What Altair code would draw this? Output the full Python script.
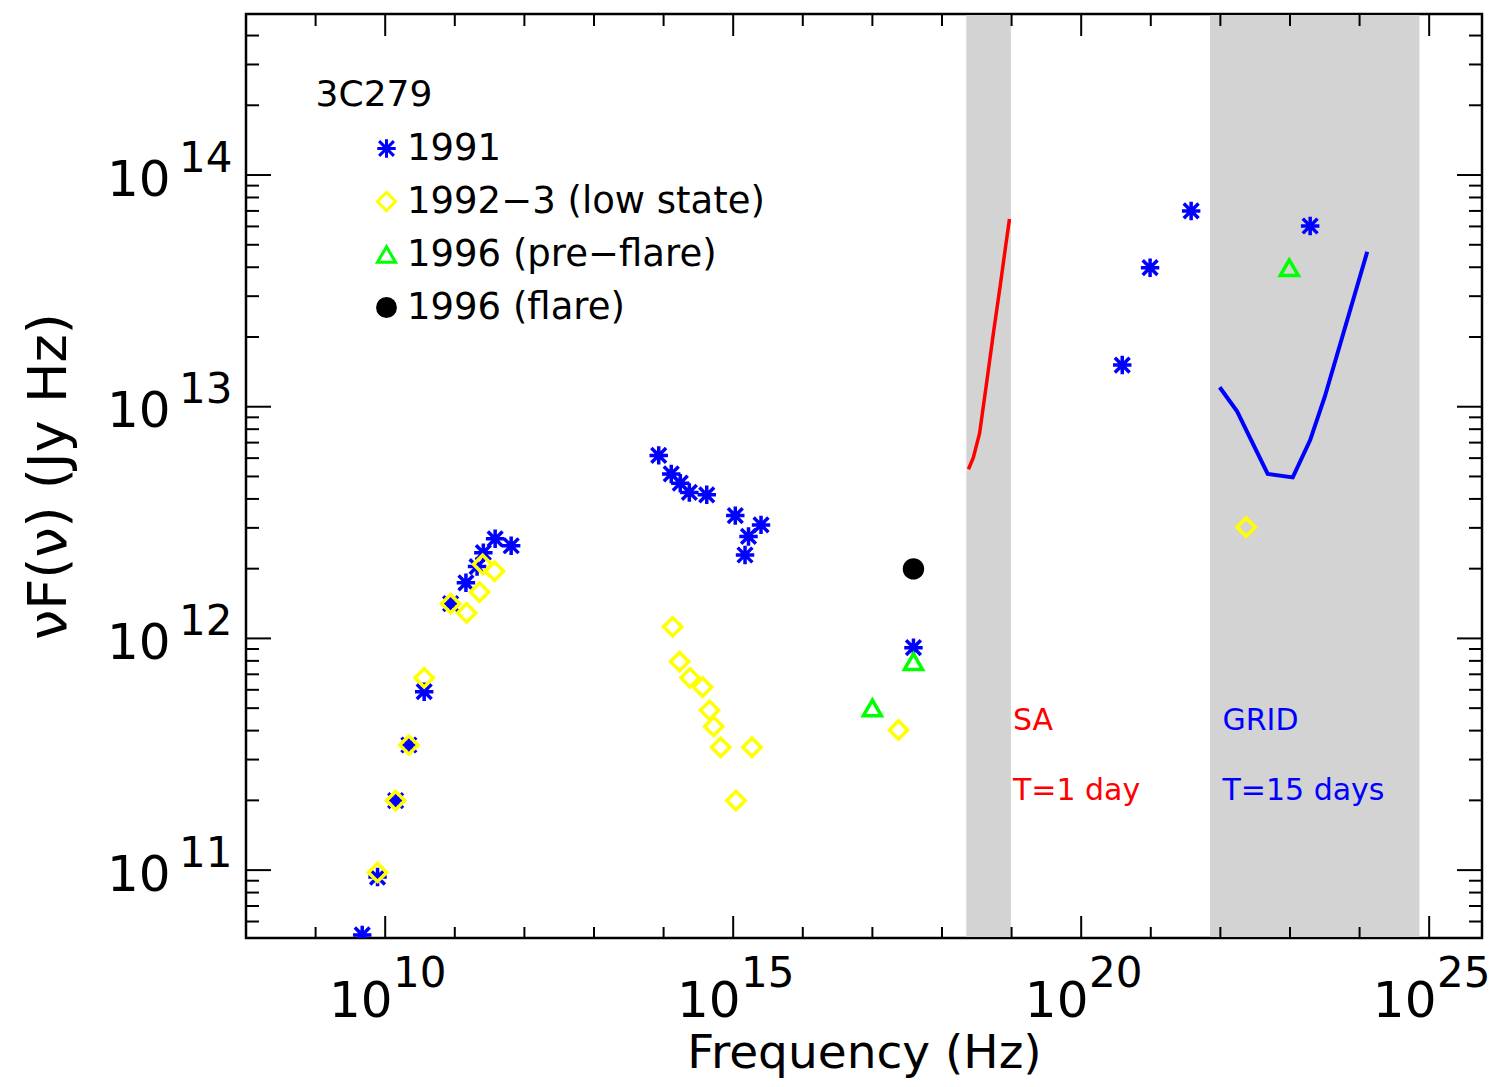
import altair as alt
import numpy as np
import pandas as pd

FONT = "DejaVu Sans"
W, H = 1236, 924

series_names = ["1991", "1992\u22123 (low state)", "1996 (pre\u2212flare)", "1996 (flare)"]

# log10(frequency), log10(nuF(nu))
lnu_1991 = [9.67, 9.89, 10.15, 10.34, 10.56, 10.94, 11.16, 11.32, 11.41, 11.58, 11.81,
            13.93, 14.11, 14.24, 14.37, 14.62, 15.03, 15.17, 15.22, 15.40,
            17.59, 20.59, 20.99, 21.58, 23.29]
lfl_1991 = [10.72, 10.97, 11.30, 11.54, 11.77, 12.15, 12.24, 12.31, 12.37, 12.43, 12.40,
            12.79, 12.71, 12.67, 12.63, 12.62, 12.53, 12.36, 12.44, 12.49,
            11.96, 13.18, 13.60, 13.845, 13.78]
lnu_1992 = [9.89, 10.15, 10.34, 10.56, 10.94, 11.17, 11.355, 11.40, 11.57,
            14.13, 14.23, 14.38, 14.56, 14.66, 14.72, 14.82, 15.04, 15.27,
            17.375, 22.37]
lfl_1992 = [10.99, 11.30, 11.54, 11.83, 12.15, 12.11, 12.20, 12.32, 12.29,
            12.05, 11.90, 11.83, 11.79, 11.69, 11.62, 11.53, 11.30, 11.53,
            11.605, 12.48]
lnu_pre = [17.00, 17.59, 22.99]
lfl_pre = [11.70, 11.90, 13.60]
lnu_flare = [17.59]
lfl_flare = [12.30]

# sensitivity curves
lnu_sa = [18.38, 18.45, 18.54, 18.64, 18.74, 18.84, 18.92, 18.97]
lfl_sa = [12.73, 12.78, 12.885, 13.10, 13.32, 13.53, 13.705, 13.81]
lnu_grid = [21.99, 22.24, 22.68, 23.04, 23.29, 23.50, 24.11]
lfl_grid = [13.084, 12.98, 12.71, 12.695, 12.856, 13.043, 13.669]

# shaded energy bands (log10 Hz)
band_lo = [18.35, 21.85]
band_hi = [18.99, 24.86]

# annotations
title_txt = ["3C279"]
title_lx = [9.0]
title_ly = [14.30]
sa_txt = ["SA", "T=1 day"]
sa_lx = [19.02, 19.02]
sa_ly = [11.605, 11.303]
grid_txt = ["GRID", "T=15 days"]
grid_lx = [22.03, 22.03]
grid_ly = [11.605, 11.303]

# ticks
x_major = [1e10, 1e15, 1e20, 1e25]
x_minor = [1e9, 1e11, 1e12, 1e13, 1e14, 1e16, 1e17, 1e18, 1e19, 1e21, 1e22, 1e23, 1e24]
y_major = [1e11, 1e12, 1e13, 1e14]
y_minor = [6e10, 7e10, 8e10, 9e10,
           2e11, 3e11, 4e11, 5e11, 6e11, 7e11, 8e11, 9e11,
           2e12, 3e12, 4e12, 5e12, 6e12, 7e12, 8e12, 9e12,
           2e13, 3e13, 4e13, 5e13, 6e13, 7e13, 8e13, 9e13,
           2e14, 3e14, 4e14]

xscale = alt.Scale(type="log", domain=[10 ** 8.0, 10 ** 25.759], nice=False)
yscale = alt.Scale(type="log", domain=[10 ** 10.707, 10 ** 14.695], nice=False)


def X(field, axis=None):
    return alt.X(field, type="quantitative", scale=xscale, axis=axis)


def Y(field, axis=None):
    return alt.Y(field, type="quantitative", scale=yscale, axis=axis)


# points table
rows = []
for name, lx, ly in [(series_names[0], lnu_1991, lfl_1991),
                     (series_names[1], lnu_1992, lfl_1992),
                     (series_names[2], lnu_pre, lfl_pre),
                     (series_names[3], lnu_flare, lfl_flare)]:
    for a, b in zip(lx, ly):
        rows.append({"nu": 10 ** a, "flux": 10 ** b, "series": name})
pts_df = pd.DataFrame(rows)
pts_df["k"] = np.arange(len(pts_df))

ASTERISK = "M-1,0L1,0M0,-1L0,1M-0.8,-0.8L0.8,0.8M-0.8,0.8L0.8,-0.8"

leg = alt.Legend(title=None, orient="none", legendX=122, legendY=116,
                 labelFontSize=37, labelFont=FONT, labelColor="black",
                 symbolStrokeWidth=3, rowPadding=15, labelOffset=2,
                 padding=0, labelLimit=800)

x_base_axis = alt.Axis(orient="bottom", values=x_major, labelExpr="'10'",
                       labelFontSize=50, labelPadding=78, labelBaseline="alphabetic",
                       labelAlign="center", labelOffset=-25, labelFlush=False, labelOverlap=False,
                       ticks=False, tickSize=0, domain=False, grid=False,
                       title="Frequency (Hz)", titleFontSize=47, titleY=129,
                       titleBaseline="alphabetic")
y_base_axis = alt.Axis(orient="left", values=y_major, labelExpr="'10'",
                       labelFontSize=50, labelPadding=76, labelBaseline="alphabetic",
                       labelAlign="right", labelOffset=20, labelFlush=False, labelOverlap=False,
                       ticks=False, tickSize=0, domain=False, grid=False,
                       title="\u03bdF(\u03bd) (Jy Hz)", titleFontSize=54, titleX=-181,
                       titleY=H / 2, titleBaseline="alphabetic", titleAlign="center")
x_exp_axis = alt.Axis(orient="bottom", values=x_major,
                      labelExpr="format(round(log(datum.value)/LN10), 'd')",
                      labelFontSize=42, labelPadding=48, labelBaseline="alphabetic",
                      labelAlign="center", labelOffset=34, labelFlush=False, labelOverlap=False,
                      ticks=False, tickSize=0, domain=False, grid=False, title=None)
y_exp_axis = alt.Axis(orient="left", values=y_major,
                      labelExpr="format(round(log(datum.value)/LN10), 'd')",
                      labelFontSize=42, labelPadding=14, labelBaseline="alphabetic",
                      labelAlign="right", labelOffset=-4, labelFlush=False, labelOverlap=False,
                      ticks=False, tickSize=0, domain=False, grid=False, title=None)

# bands
band_df = pd.DataFrame({"lo": [10 ** v for v in band_lo], "hi": [10 ** v for v in band_hi]})
bands = alt.Chart(band_df).mark_rect(color="#D3D3D3").encode(
    x=X("lo"), x2="hi", y=alt.value(1), y2=alt.value(H - 1))


def xticks(vals, length, top):
    df = pd.DataFrame({"v": vals})
    if top:
        yy, yy2 = alt.value(0), alt.value(length)
    else:
        yy, yy2 = alt.value(H), alt.value(H - length)
    return alt.Chart(df).mark_rule(color="black", strokeWidth=2).encode(x=X("v"), y=yy, y2=yy2)


def yticks(vals, length, right):
    df = pd.DataFrame({"v": vals})
    if right:
        xx, xx2 = alt.value(W), alt.value(W - length)
    else:
        xx, xx2 = alt.value(0), alt.value(length)
    return alt.Chart(df).mark_rule(color="black", strokeWidth=2).encode(y=Y("v"), x=xx, x2=xx2)


ticks = [xticks(x_major, 22, False), xticks(x_minor, 11, False),
         xticks(x_major, 22, True), xticks(x_minor, 12, True),
         yticks(y_major, 25, False), yticks(y_minor, 13, False),
         yticks(y_major, 25, True), yticks(y_minor, 13, True)]

sa_df = pd.DataFrame({"nu": [10 ** v for v in lnu_sa], "flux": [10 ** v for v in lfl_sa]})
grid_df = pd.DataFrame({"nu": [10 ** v for v in lnu_grid], "flux": [10 ** v for v in lfl_grid]})
sa_line = alt.Chart(sa_df).mark_line(color="#FF0000", strokeWidth=3.5).encode(x=X("nu"), y=Y("flux"))
grid_line = alt.Chart(grid_df).mark_line(color="#0000FF", strokeWidth=4).encode(x=X("nu"), y=Y("flux"))

points = alt.Chart(pts_df).mark_point(strokeWidth=3.5, opacity=1, clip=True).encode(
    x=X("nu", x_base_axis),
    y=Y("flux", y_base_axis),
    shape=alt.Shape("series:N", scale=alt.Scale(domain=series_names,
                    range=[ASTERISK, "diamond", "triangle-up", "circle"]), legend=leg),
    stroke=alt.Stroke("series:N", scale=alt.Scale(domain=series_names,
                      range=["#0000FF", "#FFFF00", "#00FF00", "#000000"]), legend=leg),
    fill=alt.Fill("series:N", scale=alt.Scale(domain=series_names,
                  range=["transparent", "transparent", "transparent", "#000000"]), legend=leg),
    size=alt.Size("series:N", scale=alt.Scale(domain=series_names,
                  range=[340, 320, 320, 300]), legend=leg),
    order=alt.Order("k:Q"),
)

title_df = pd.DataFrame({"t": title_txt, "nu": [10 ** v for v in title_lx], "flux": [10 ** v for v in title_ly]})
sa_t_df = pd.DataFrame({"t": sa_txt, "nu": [10 ** v for v in sa_lx], "flux": [10 ** v for v in sa_ly]})
grid_t_df = pd.DataFrame({"t": grid_txt, "nu": [10 ** v for v in grid_lx], "flux": [10 ** v for v in grid_ly]})

title_text = alt.Chart(title_df).mark_text(align="left", baseline="alphabetic", font=FONT,
                                           fontSize=36, color="black").encode(
    x=X("nu", x_exp_axis), y=Y("flux", y_exp_axis), text="t:N")
sa_text = alt.Chart(sa_t_df).mark_text(align="left", baseline="alphabetic", font=FONT,
                                       fontSize=30, color="#FF0000").encode(
    x=X("nu"), y=Y("flux"), text="t:N")
grid_text = alt.Chart(grid_t_df).mark_text(align="left", baseline="alphabetic", font=FONT,
                                           fontSize=30, color="#0000FF").encode(
    x=X("nu"), y=Y("flux"), text="t:N")

chart = alt.layer(bands, *ticks, sa_line, grid_line, points, title_text, sa_text, grid_text).resolve_axis(
    x="independent", y="independent"
).properties(
    width=W, height=H,
    autosize=alt.AutoSizeParams(type="none"),
    padding={"left": 238, "top": 6, "right": 8, "bottom": 141},
).configure_axis(
    labelFont=FONT, titleFont=FONT, labelColor="black", titleColor="black",
    titleFontWeight="normal", labelFontWeight="normal"
).configure_view(
    stroke="black", strokeWidth=2.5
)

chart.save("out.html", embed_options={"renderer": "svg", "actions": False})
